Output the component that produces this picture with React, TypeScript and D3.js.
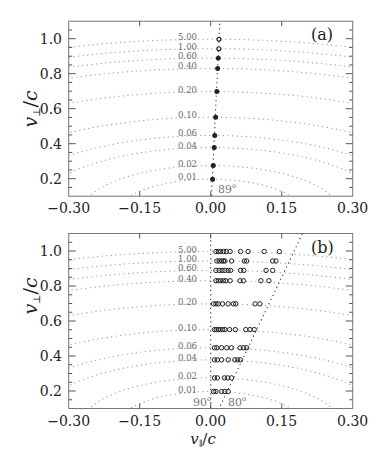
import * as d3 from 'd3'

// kinetic energy labels (MeV) and the speed where each circle crosses v_par = 0
const ENERGIES = ['0.01', '0.02', '0.04', '0.06', '0.10', '0.20', '0.40', '0.60', '1.00', '5.00']
const SPEEDS = [0.197, 0.275, 0.378, 0.447, 0.551, 0.698, 0.83, 0.889, 0.943, 0.997]

// panel (a): one particle per energy, on the 89 deg line
const A_VPAR = [0.004, 0.0055, 0.0075, 0.0085, 0.0105, 0.013, 0.0148, 0.016, 0.0172, 0.0175]
const A_ANGLES = [89]

// panel (b): v_par of the circles on each energy row
const B_ROWS = [
  [0.006, 0.011, 0.023, 0.030, 0.037],
  [0.008, 0.014, 0.029, 0.036, 0.044],
  [0.008, 0.014, 0.023, 0.037, 0.051, 0.057, 0.063],
  [0.008, 0.013, 0.023, 0.034, 0.044, 0.062, 0.069, 0.076],
  [0.008, 0.012, 0.016, 0.020, 0.025, 0.030, 0.040, 0.052, 0.074, 0.083, 0.092],
  [0.006, 0.011, 0.016, 0.025, 0.037, 0.048, 0.053, 0.094, 0.104],
  [0.011, 0.016, 0.021, 0.027, 0.032, 0.041, 0.062, 0.069, 0.106, 0.123],
  [0.011, 0.018, 0.024, 0.030, 0.037, 0.042, 0.063, 0.070, 0.117, 0.131],
  [0.013, 0.018, 0.023, 0.027, 0.030, 0.044, 0.071, 0.076, 0.131, 0.138],
  [0.011, 0.016, 0.021, 0.027, 0.033, 0.041, 0.063, 0.079, 0.113, 0.145]
]
const B_ANGLES = [90, 80]

const X_TICKS = [-0.3, -0.15, 0, 0.15, 0.3]
const Y_TICKS = [0.2, 0.4, 0.6, 0.8, 1.0]
const Y_MINOR = d3.range(0.15, 1.1, 0.05)

const LEFT = 68.7
const RIGHT = 352.7
const FONT = 'DejaVu Serif'

function Panel({ id, top, letter, labelY, angles, angleLabels, children }) {
  const x = d3.scaleLinear().domain([-0.3, 0.3]).range([LEFT, RIGHT])
  const y = d3.scaleLinear().domain([0.1, 1.1]).range([top + 175, top])
  const bottom = top + 175
  const x0 = x(0)
  const y0 = y(0)

  return (
    <g>
      <defs>
        <clipPath id={`clip-${id}`}>
          <rect x={LEFT} y={top} width={RIGHT - LEFT} height={175} />
        </clipPath>
      </defs>

      {/* constant energy circles */}
      <g clipPath={`url(#clip-${id})`}>
        {SPEEDS.map((s, i) => (
          <ellipse
            key={i}
            cx={x0}
            cy={y0}
            rx={x(s) - x0}
            ry={y0 - y(s)}
            fill="none"
            stroke="#a0a0a0"
            strokeWidth={1.1}
            strokeDasharray="1.2 3.4"
          />
        ))}

        {/* pitch angle lines */}
        {angles.map(a => {
          const rad = (a * Math.PI) / 180
          const vp = 1.2
          return (
            <line
              key={a}
              x1={x0}
              y1={y0}
              x2={x(vp * Math.cos(rad) / Math.sin(rad))}
              y2={y(vp)}
              stroke="#333"
              strokeWidth={1.1}
              strokeDasharray="1.2 3.3"
            />
          )
        })}
        {children(x, y)}
      </g>

      {/* energy labels */}
      {SPEEDS.map((s, i) => (
        <text
          key={i}
          x={197}
          y={y(s) + 1}
          textAnchor="end"
          fontSize={8.5}
          fontFamily={FONT}
          fill="#6a6a6a"
        >
          {ENERGIES[i]}
        </text>
      ))}

      {angleLabels.map(l => (
        <text key={l.t} x={l.x} y={bottom - 3} fontSize={11} fontFamily={FONT} fill="#777">
          {l.t}
          <tspan fontSize={7} dy={-5}>o</tspan>
        </text>
      ))}

      {/* frame */}
      <rect x={LEFT} y={top} width={RIGHT - LEFT} height={175} fill="none" stroke="#777" strokeWidth={1} />

      {/* ticks */}
      {X_TICKS.slice(1, -1).map(t => (
        <g key={t} stroke="#555" strokeWidth={1}>
          <line x1={x(t)} x2={x(t)} y1={bottom} y2={bottom - 5} />
          <line x1={x(t)} x2={x(t)} y1={top} y2={top + 5} />
        </g>
      ))}
      {Y_MINOR.map((t, i) => {
        const major = Y_TICKS.some(m => Math.abs(m - t) < 1e-6)
        const len = major ? 7 : 3.5
        return (
          <g key={i} stroke="#555" strokeWidth={1}>
            <line x1={LEFT} x2={LEFT + len} y1={y(t)} y2={y(t)} />
            <line x1={RIGHT} x2={RIGHT - len} y1={y(t)} y2={y(t)} />
          </g>
        )
      })}

      {/* tick labels */}
      {X_TICKS.map(t => (
        <text
          key={t}
          x={x(t)}
          y={bottom + 17}
          textAnchor="middle"
          fontSize={14}
          fontFamily={FONT}
          fill="#222"
        >
          {t < 0 ? '\u2212' + d3.format('.2f')(-t) : d3.format('.2f')(t)}
        </text>
      ))}
      {Y_TICKS.map(t => (
        <text
          key={t}
          x={62}
          y={y(t) + 5}
          textAnchor="end"
          fontSize={14}
          fontFamily={FONT}
          fill="#222"
        >
          {d3.format('.1f')(t)}
        </text>
      ))}

      {/* panel letter */}
      <text x={311} y={top + 19} fontSize={16} fontFamily={FONT} fill="#222">
        {letter}
      </text>

      {/* y label */}
      <text
        transform={`translate(37, ${labelY}) rotate(-90)`}
        textAnchor="middle"
        fontSize={19}
        fontFamily={FONT}
        fill="#222"
      >
        <tspan fontStyle="italic">v</tspan>
        <tspan fontSize={10} dy={3}>⊥</tspan>
        <tspan dy={-3}>/</tspan>
        <tspan fontStyle="italic">c</tspan>
      </text>
    </g>
  )
}

export default function App() {
  return (
    <svg
      width={391}
      height={454}
      style={{ position: 'absolute', left: 0, top: 0, background: '#fff' }}
    >
      <Panel
        id="a"
        top={21.2}
        letter="(a)"
        labelY={109}
        angles={A_ANGLES}
        angleLabels={[{ t: '89', x: 218 }]}
      >
        {(x, y) =>
          SPEEDS.map((s, i) => (
            <circle
              key={i}
              cx={x(A_VPAR[i])}
              cy={y(s)}
              r={1.9}
              fill={i >= 8 ? '#fff' : '#222'}
              stroke="#222"
              strokeWidth={1.2}
            />
          ))
        }
      </Panel>

      <Panel
        id="b"
        top={233.5}
        letter="(b)"
        labelY={296}
        angles={B_ANGLES}
        angleLabels={[
          { t: '90', x: 193 },
          { t: '80', x: 228 }
        ]}
      >
        {(x, y) =>
          B_ROWS.map((row, i) =>
            row.map((v, j) => (
              <circle
                key={`${i}-${j}`}
                cx={x(v)}
                cy={y(SPEEDS[i])}
                r={2.2}
                fill="none"
                stroke="#222"
                strokeWidth={1}
              />
            ))
          )
        }
      </Panel>

      {/* x label */}
      <text x={203} y={444} textAnchor="middle" fontSize={15} fontFamily={FONT} fill="#222">
        <tspan fontStyle="italic">v</tspan>
        <tspan fontSize={8} dy={2}>∥</tspan>
        <tspan dy={-2}>/</tspan>
        <tspan fontStyle="italic">c</tspan>
      </text>
    </svg>
  )
}
